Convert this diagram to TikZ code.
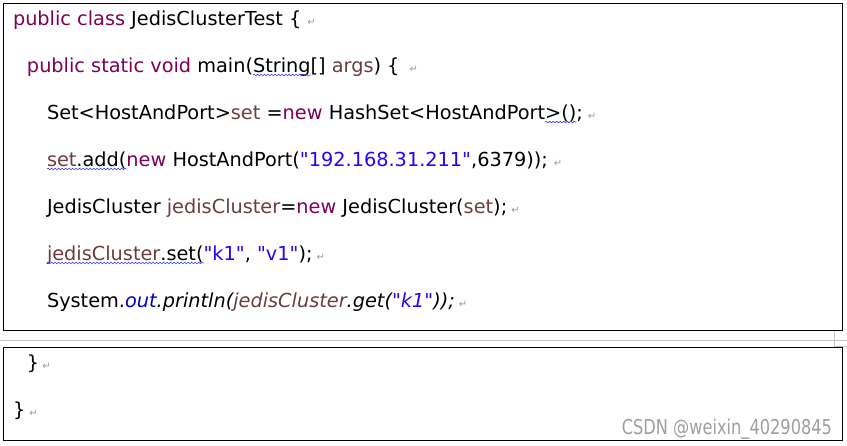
\documentclass[tikz,border=0pt]{standalone}
\usepackage{fontspec}
\usepackage{xcolor}
\usetikzlibrary{decorations.pathmorphing}
\newfontfamily\codefont{DejaVu Sans}
\newfontfamily\markfont[FakeStretch=0.79]{DejaVu Sans}
\definecolor{kw}{RGB}{127,0,85}
\definecolor{var}{RGB}{106,62,62}
\definecolor{str}{RGB}{42,0,255}
\definecolor{fld}{RGB}{0,0,192}
\definecolor{wavy}{RGB}{60,60,255}

\begin{document}
\begin{tikzpicture}
  [x=1pt,y=-1pt,
   every node/.style={anchor=base west,inner sep=0pt,outer sep=0pt,font=\codefont\fontsize{19.3}{23}\selectfont},
   wave/.style={draw=wavy,line width=.6pt,decorate,decoration={snake,amplitude=.8pt,segment length=3.5pt}},
   ret/.style={font=\codefont\fontsize{10}{11}\selectfont,text=gray!80}]
  \useasboundingbox (0,0) rectangle (847,445);
  \draw[line width=1pt] (3,3) rectangle (842,330);
  \draw[line width=1pt] (3,347) rectangle (842,440);
  \draw[gray!45] (0,340) -- (847,340);
  \draw[gray!45] (834,331) -- (834,346) -- (847,346);

  \node (l1) at (13,25) {\textcolor{kw}{public class} JedisClusterTest \{};
  \node (l2a) at (27,72) {\textcolor{kw}{public static void} main(};
  \node (l2b) at (l2a.base east) {String};
  \node (l2c) at (l2b.base east) {[] \textcolor{var}{args}) \{};
  \node (l3a) at (47,119) {Set<HostAndPort>\textcolor{var}{set} =\textcolor{kw}{new} HashSet<HostAndPort};
  \node (l3b) at (l3a.base east) {>()};
  \node (l3c) at (l3b.base east) {;};
  \node (l4a) at (47,166) {\textcolor{var}{set}.add(};
  \node (l4b) at (l4a.base east) {\textcolor{kw}{new} HostAndPort(\textcolor{str}{"192.168.31.211"},6379));};
  \node (l5) at (47,213) {JedisCluster \textcolor{var}{jedisCluster}=\textcolor{kw}{new} JedisCluster(\textcolor{var}{set});};
  \node (l6a) at (47,260) {\textcolor{var}{jedisCluster}.set(};
  \node (l6b) at (l6a.base east) {\textcolor{str}{"k1"}, \textcolor{str}{"v1"});};
  \node (l7) at (47,307) {System.\textit{\textcolor{fld}{out}.println(\textcolor{var}{jedisCluster}.get(\textcolor{str}{"k1"}));}};
  \node (l8) at (27,369) {\}};
  \node (l9) at (13,416) {\}};

  \foreach \n in {l2b,l3b,l4a,l6a}
    \draw[wave] ([yshift=-3pt]\n.base west) -- ([yshift=-3pt]\n.base east);

  \foreach \n/\s in {l1/6,l2c/10,l3c/5,l4b/6,l5/4,l6b/4,l7/4,l8/3,l9/4}
    \node[ret] at ([xshift=\s pt]\n.base east) {↵};

  \node[font=\markfont\fontsize{20.5}{24}\selectfont,text=gray!75,anchor=base east] (mark) at (832,434) {CSDN @weixin\_40290845};
\end{tikzpicture}
\end{document}
